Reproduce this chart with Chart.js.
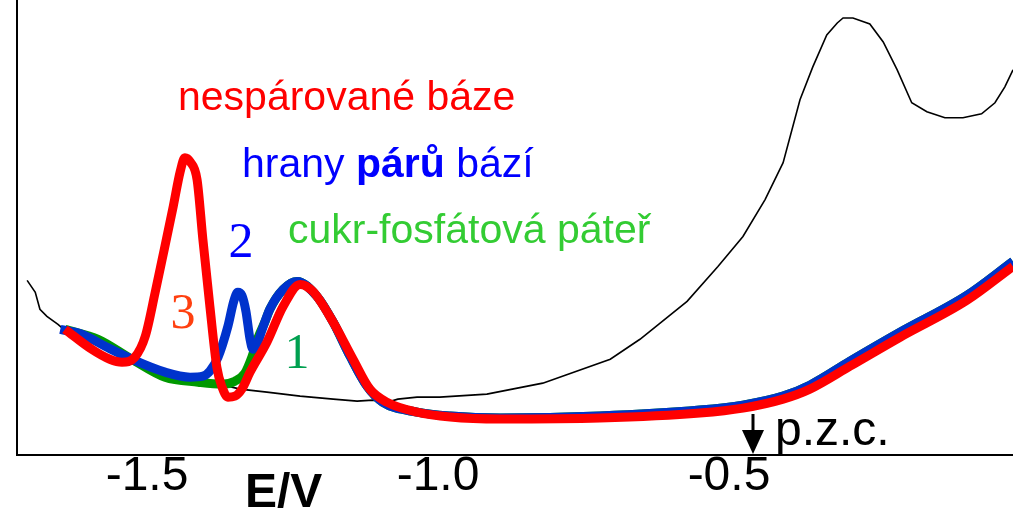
<!DOCTYPE html>
<html>
<head>
<meta charset="utf-8">
<script src="https://cdn.jsdelivr.net/npm/chart.js@4/dist/chart.umd.min.js"></script>
<style>
html,body{margin:0;padding:0;background:#fff;}
#wrap{width:1013px;height:509px;position:relative;}
</style>
</head>
<body>
<div id="wrap"><canvas id="c"></canvas></div>
<script>
// ---- data (E in V, current in arbitrary units) ----
const xMin = -1.7234;
const xMax = -0.012;
const tickValues = [-1.5, -1.0, -0.5];
const tickLabels = ["-1.5", "-1.0", "-0.5"];
const pzcE = -0.459;

const blackE = [-1.706,-1.692,-1.684,-1.672,-1.653,-1.641,-1.607,-1.572,-1.538,-1.469,-1.409,-1.361,-1.340,-1.294,-1.237,-1.180,-1.139,-1.112,-1.086,-1.069,-1.036,-0.997,-0.916,-0.820,-0.704,-0.653,-0.572,-0.519,-0.476,-0.438,-0.407,-0.378,-0.356,-0.332,-0.314,-0.304,-0.287,-0.258,-0.235,-0.211,-0.186,-0.160,-0.129,-0.098,-0.066,-0.043,-0.026,-0.012];
const blackI = [1.75,1.63,1.46,1.39,1.31,1.25,1.12,0.99,0.94,0.80,0.72,0.69,0.66,0.63,0.59,0.56,0.54,0.55,0.53,0.56,0.58,0.58,0.61,0.72,0.96,1.16,1.54,1.89,2.19,2.56,2.93,3.56,3.89,4.21,4.33,4.38,4.38,4.32,4.14,3.86,3.53,3.44,3.38,3.38,3.42,3.53,3.69,3.86];

const greenE = [-1.641,-1.584,-1.526,-1.469,-1.412,-1.371,-1.349,-1.332,-1.320,-1.309,-1.297,-1.289,-1.266,-1.242,-1.208,-1.180,-1.151,-1.122,-1.095,-1.036,-0.979,-0.893,-0.722,-0.550,-0.476,-0.407,-0.361,-0.292,-0.206,-0.091,-0.012];
const greenI = [1.26,1.16,0.96,0.78,0.73,0.71,0.74,0.82,0.98,1.18,1.34,1.46,1.66,1.74,1.59,1.33,0.99,0.69,0.53,0.43,0.39,0.37,0.39,0.45,0.50,0.59,0.70,0.94,1.23,1.60,1.94];

const blueE = [-1.649,-1.612,-1.572,-1.526,-1.469,-1.426,-1.404,-1.392,-1.378,-1.361,-1.351,-1.344,-1.337,-1.330,-1.323,-1.318,-1.311,-1.302,-1.289,-1.266,-1.242,-1.208,-1.180,-1.151,-1.122,-1.095,-1.036,-0.979,-0.893,-0.722,-0.550,-0.476,-0.407,-0.361,-0.292,-0.206,-0.091,-0.012];
const blueI = [1.26,1.21,1.09,0.96,0.83,0.78,0.79,0.84,0.98,1.29,1.54,1.63,1.60,1.44,1.16,1.06,1.11,1.26,1.46,1.66,1.74,1.59,1.33,0.99,0.69,0.53,0.43,0.39,0.37,0.39,0.45,0.50,0.59,0.70,0.94,1.23,1.60,1.94];

const redE = [-1.641,-1.595,-1.564,-1.543,-1.521,-1.503,-1.486,-1.474,-1.455,-1.443,-1.435,-1.426,-1.414,-1.404,-1.392,-1.380,-1.371,-1.361,-1.349,-1.337,-1.323,-1.294,-1.266,-1.237,-1.215,-1.180,-1.146,-1.117,-1.088,-1.036,-0.979,-0.893,-0.722,-0.550,-0.476,-0.407,-0.361,-0.292,-0.206,-0.091,-0.012];
const redI = [1.26,1.06,0.96,0.93,0.98,1.19,1.63,1.96,2.49,2.84,2.98,2.94,2.76,2.16,1.49,0.88,0.68,0.58,0.59,0.66,0.83,1.13,1.49,1.71,1.64,1.33,0.96,0.66,0.53,0.43,0.38,0.36,0.37,0.42,0.47,0.56,0.66,0.89,1.18,1.55,1.89];

const zip = (xs, ys) => xs.map((x, i) => ({x: x, y: ys[i]}));

const annotate = {
  id: 'annotate',
  afterDraw(chart) {
    const ctx = chart.ctx;
    const xs = chart.scales.x;
    ctx.save();
    ctx.textBaseline = 'alphabetic';
    ctx.textAlign = 'left';
    // red label
    ctx.font = '41px "Liberation Sans", Arial, sans-serif';
    ctx.fillStyle = '#ff0000';
    ctx.fillText('nespárované báze', 178, 110);
    // blue label with bold part
    ctx.fillStyle = '#0000ff';
    let x = 242;
    ctx.font = '41px "Liberation Sans", Arial, sans-serif';
    ctx.fillText('hrany ', x, 177);
    x += ctx.measureText('hrany ').width;
    ctx.font = 'bold 41px "Liberation Sans", Arial, sans-serif';
    ctx.fillText('párů', x, 177);
    x += ctx.measureText('párů').width;
    ctx.font = '41px "Liberation Sans", Arial, sans-serif';
    ctx.fillText(' bází', x, 177);
    // green label
    ctx.fillStyle = '#33cc33';
    ctx.fillText('cukr-fosfátová páteř', 288, 243);
    // peak numbers
    ctx.font = '50px "Liberation Serif", "Times New Roman", serif';
    ctx.textAlign = 'center';
    ctx.fillStyle = '#ff4010';
    ctx.fillText('3', 183, 328);
    ctx.fillStyle = '#0000ff';
    ctx.fillText('2', 241, 257);
    ctx.fillStyle = '#00a050';
    ctx.fillText('1', 297, 368);
    // axis label
    ctx.textAlign = 'left';
    ctx.fillStyle = '#000';
    ctx.font = 'bold 48px "Liberation Sans", Arial, sans-serif';
    ctx.fillText('E/V', 245, 507);
    // p.z.c. arrow
    const ax = Math.round(xs.getPixelForValue(pzcE));
    ctx.strokeStyle = '#000';
    ctx.lineWidth = 3;
    ctx.beginPath();
    ctx.moveTo(ax, 414);
    ctx.lineTo(ax, 432);
    ctx.stroke();
    ctx.beginPath();
    ctx.moveTo(ax - 11, 430);
    ctx.lineTo(ax + 11, 430);
    ctx.lineTo(ax, 454);
    ctx.closePath();
    ctx.fill();
    ctx.font = '48px "Liberation Sans", Arial, sans-serif';
    ctx.fillText('p.z.c.', ax + 22, 445);
    ctx.restore();
  }
};

new Chart(document.getElementById('c'), {
  type: 'line',
  data: {
    datasets: [
      {label: 'unpaired', data: zip(redE, redI), borderColor: '#ff0000', borderWidth: 9, cubicInterpolationMode: 'monotone', pointRadius: 0, order: 0, borderCapStyle: 'butt'},
      {label: 'pairs', data: zip(blueE, blueI), borderColor: '#0033cc', borderWidth: 9, cubicInterpolationMode: 'monotone', pointRadius: 0, order: 1, borderCapStyle: 'butt'},
      {label: 'backbone', data: zip(greenE, greenI), borderColor: '#009900', borderWidth: 9, cubicInterpolationMode: 'monotone', pointRadius: 0, order: 2},
      {label: 'blank', data: zip(blackE, blackI), borderColor: '#000000', borderWidth: 1.6, tension: 0, pointRadius: 0, order: 3}
    ]
  },
  options: {
    responsive: true,
    maintainAspectRatio: false,
    animation: false,
    events: [],
    layout: {padding: {left: 17, top: 0, right: 0, bottom: 10}},
    plugins: {legend: {display: false}, tooltip: {enabled: false}, title: {display: false}},
    scales: {
      x: {
        type: 'linear',
        min: xMin,
        max: xMax,
        grid: {display: false, drawTicks: false},
        border: {display: true, color: '#000', width: 2},
        afterBuildTicks: (s) => { s.ticks = tickValues.map(v => ({value: v})); },
        ticks: {
          autoSkip: false,
          maxRotation: 0,
          padding: -2,
          color: '#000',
          font: {family: '"Liberation Sans", Arial, sans-serif', size: 48, lineHeight: 1.0},
          callback: (v, i) => tickLabels[i]
        }
      },
      y: {
        min: 0,
        max: 4.56,
        grid: {display: false, drawTicks: false},
        border: {display: true, color: '#000', width: 2},
        ticks: {display: false}
      }
    }
  },
  plugins: [annotate]
});
</script>
</body>
</html>
